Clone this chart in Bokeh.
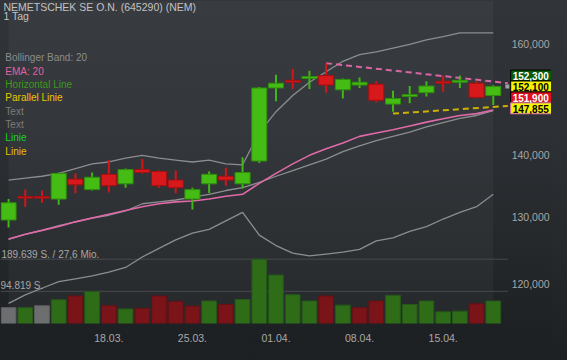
from bokeh.plotting import figure
from bokeh.models import Range1d, LinearScale, FixedTicker, Label, BoxAnnotation, GlobalInlineStyleSheet
from bokeh.embed import file_html
from bokeh.resources import INLINE

# ---------------- data ----------------
dates = ["08.03.", "11.03.", "12.03.", "13.03.", "14.03.", "15.03.",
         "18.03.", "19.03.", "20.03.", "21.03.", "22.03.",
         "25.03.", "26.03.", "27.03.", "28.03.", "29.03.",
         "01.04.", "02.04.", "03.04.", "04.04.", "05.04.",
         "08.04.", "09.04.", "10.04.", "11.04.", "12.04.",
         "15.04.", "16.04.", "17.04.", "18.04."]

opens = [129.55, 133.25, 133.25, 132.85, 136.07, 134.37, 136.85, 135.30, 137.64, 137.32,
         135.92, 132.85, 135.30, 136.54, 135.30, 139.06, 151.82, 153.22, 153.57, 154.10,
         151.48, 152.35, 152.52, 148.90, 150.27, 150.96, 153.04, 152.87, 152.69, 150.44]
highs = [132.85, 134.37, 134.22, 137.16, 137.01, 137.16, 139.22, 137.80, 139.38, 137.48,
         137.48, 134.68, 137.32, 137.95, 139.70, 152.00, 154.27, 155.33, 154.98, 156.40,
         153.57, 153.74, 153.04, 151.31, 152.17, 153.04, 154.10, 154.10, 153.04, 152.30]
lows = [128.38, 131.64, 132.25, 131.94, 133.76, 134.22, 133.91, 134.68, 137.01, 134.68,
        133.76, 131.19, 133.76, 134.99, 134.53, 138.74, 149.41, 151.65, 151.65, 150.96,
        149.92, 151.82, 149.24, 147.55, 149.07, 150.27, 151.13, 151.82, 149.92, 148.73]
closes = [132.25, 133.00, 133.00, 137.01, 135.14, 136.38, 134.99, 137.64, 137.16, 134.99,
          134.68, 134.37, 136.85, 135.92, 137.16, 151.82, 152.69, 152.87, 153.92, 152.35,
          153.39, 152.87, 149.58, 149.92, 150.61, 152.17, 152.69, 153.22, 150.10, 152.10]

volumes = [46800, 46800, 52400, 70000, 81200, 94400, 52400, 42900, 44800, 81200,
           65300, 51300, 66400, 56000, 70900, 189639, 142900, 84900, 66400, 81200,
           54100, 46800, 66400, 83200, 56000, 66400, 34500, 36400, 58000, 66400]
vol_dir = ["n", "u", "n", "u", "d", "u", "d", "u", "d", "d",
           "d", "d", "u", "d", "u", "u", "u", "u", "u", "d",
           "u", "d", "d", "u", "u", "u", "u", "u", "d", "u"]

bb_upper = [135.92, 136.23, 136.54, 137.01, 137.80, 138.59, 138.90, 139.54, 140.01, 139.54,
            139.22, 138.90, 139.22, 138.59, 138.43, 143.89, 147.55, 150.44, 152.87, 154.80,
            156.76, 158.01, 158.56, 159.28, 160.00, 160.83, 161.48, 162.22, 162.22, 162.22]
bb_mid = [126.56, 127.32, 127.95, 128.66, 129.26, 129.86, 130.29, 130.96, 132.10, 132.40,
          132.70, 133.15, 133.61, 134.22, 134.68, 135.53, 136.54, 137.48, 138.43, 139.38,
          140.65, 141.62, 142.51, 143.24, 143.98, 144.88, 145.63, 146.38, 146.88, 147.72]
bb_lower = [117.19, 118.40, 119.35, 120.30, 120.71, 121.13, 121.68, 122.37, 123.92, 125.20,
            126.49, 127.51, 128.09, 129.41, 130.75, 127.22, 125.63, 124.49, 124.07, 124.35,
            124.63, 125.06, 126.35, 126.78, 127.80, 128.53, 129.70, 130.75, 131.64, 133.61]
ema20 = [126.64, 127.36, 127.94, 128.53, 129.26, 129.86, 130.45, 131.04, 131.64, 132.10,
         132.40, 132.55, 132.85, 133.31, 133.61, 135.37, 137.01, 138.59, 140.01, 141.13,
         142.10, 143.24, 143.81, 144.39, 145.05, 145.71, 146.30, 146.88, 147.21, 147.86]

trend_x = [19, 29.87]
trend_y = [156.40, 152.69]
support_x = [23, 29.87]
support_y = [147.21, 148.56]

last_price = 152.10
price_ticks = [120, 130, 140, 160]
price_tick_labels = ["120,000", "130,000", "140,000", "160,000"]
date_tick_idx = [6, 11, 16, 21, 26]

tag_texts = ["152,300", "152,100", "151,900", "147,855"]
vol_max = 189639
vol_max_label = "189.639 S. / 27,6 Mio."
vol_half_label = "94.819 S."

title_text = "NEMETSCHEK SE O.N. (645290) (NEM)"
period_text = "1 Tag"
legend_texts = ["Bollinger Band: 20", "EMA: 20", "Horizontal Line", "Parallel Linie",
                "Text", "Text", "Linie", "Linie"]

# ---------------- styling / layout ----------------
FONT = "Liberation Sans"
GRAD = "linear-gradient(180deg, #313438 0%, #2c2f33 40%, #25282b 72%, #1d2023 100%)"
legend_colors = ["#8c8c8c", "#e0629f", "#3b9a1b", "#ecc800",
                 "#7c7c7c", "#7c7c7c", "#22d022", "#e4c000"]
tag_bg = ["#0b5a0b", "#f4f400", "#e0101e", "#f4f400"]
tag_fg = ["#ffffff", "#000000", "#ffffff", "#000000"]
tag_border = ["#000000", "#000000", "#000000", "#e070b0"]
tag_py = [79, 90.5, 102, 113.5]   # tag centres (ref px)
TAG_H = 11.5                      # tag box height (ref px)

n = len(dates)
idx = list(range(n))
REF_W, REF_H = 567, 340          # reference canvas width / price frame height (ref px)
PLOT_W = 522                     # right edge of the chart area (ref px)
X0, DX = 8.3, 17.2               # ref px of first candle, candle spacing

W, H = 551, 344
p = figure(width=W, height=H, output_backend="svg", toolbar_location=None,
           y_axis_type="log",
           x_range=Range1d(-X0 / DX, (REF_W - X0) / DX),
           y_range=Range1d(114.40, 168.64),
           min_border_left=0, min_border_top=0, min_border_right=0, min_border_bottom=18)
p.yaxis.visible = False

vol_top = vol_max * REF_H / 67.7
p.extra_y_ranges = {"vol": Range1d(0, vol_top), "px": Range1d(REF_H, 0)}
p.extra_y_scales = {"vol": LinearScale(), "px": LinearScale()}
p.extra_x_ranges = {"px": Range1d(0, REF_W)}
p.extra_x_scales = {"px": LinearScale()}

p.background_fill_alpha = 0
p.border_fill_alpha = 0
p.styles = {"background": GRAD}
p.stylesheets = [GlobalInlineStyleSheet(css="html, body { background: %s fixed; }" % GRAD)]
p.outline_line_color = None
p.grid.visible = False

xa = p.xaxis[0]
xa.ticker = FixedTicker(ticks=date_tick_idx)
xa.major_label_overrides = {i: dates[i] for i in date_tick_idx}
xa.axis_line_color = None
xa.major_tick_line_color = None
xa.minor_tick_line_color = None
xa.major_label_text_color = "#a8a8a8"
xa.major_label_text_font = FONT
xa.major_label_text_font_size = "10.5px"
xa.major_label_standoff = 4

# lighter data region
p.add_layout(BoxAnnotation(left=0, right=n - 1, fill_color="#ffffff", fill_alpha=0.035,
                           line_color=None, level="underlay"))

# volume separator lines (end at the chart's right edge)
for lvl in (vol_max, vol_max / 2):
    p.line([0, PLOT_W], [REF_H - lvl * REF_H / vol_top] * 2, x_range_name="px",
           y_range_name="px", line_color="#474a4e", line_width=1)

# volume bars
vcol = {"u": "#2e6c17", "d": "#7a1418", "n": "#6d6e70"}
vline = {"u": "#25581a", "d": "#641115", "n": "#5d5e60"}
p.vbar(x=idx, width=0.88, top=volumes, bottom=0, y_range_name="vol",
       fill_color=[vcol[d] for d in vol_dir], line_color=[vline[d] for d in vol_dir],
       line_width=1)

# bollinger + ema
for band in (bb_upper, bb_mid, bb_lower):
    p.line(idx, band, line_color="#8b8d90", line_width=1.3)
p.line(idx, ema20, line_color="#e06aa8", line_width=1.6)

# trend lines
p.line(trend_x, trend_y, line_color="#d866a4", line_width=2, line_dash="6 4")
p.line(support_x, support_y, line_color="#cdb000", line_width=2, line_dash="6 4")

# candles
up = [c >= o for o, c in zip(opens, closes)]
p.segment(x0=idx, y0=lows, x1=idx, y1=highs,
          line_color=["#3fb716" if u else "#d3161a" for u in up], line_width=2)
p.vbar(x=idx, width=0.9,
       top=[max(o, c) for o, c in zip(opens, closes)],
       bottom=[min(o, c) for o, c in zip(opens, closes)],
       fill_color=["#45bc14" if u else "#d8191c" for u in up],
       line_color=["#2f8e0d" if u else "#a50f12" for u in up], line_width=1)

# last price marker
p.scatter([n - 1 + 0.84], [last_price], marker="square", size=4,
          fill_color="#a0a0a0", line_color=None)

# price tag boxes (right margin of the chart)
p.quad(left=[525] * len(tag_py), right=[569] * len(tag_py),
       top=[y - TAG_H / 2 for y in tag_py], bottom=[y + TAG_H / 2 for y in tag_py],
       x_range_name="px", y_range_name="px",
       fill_color=tag_bg, line_color=tag_border, line_width=1)

# texts
def lab(x, y, text, color, size="10px", **kw):
    p.add_layout(Label(x=x, y=y, x_range_name="px", y_range_name="px", text=text,
                       text_color=color, text_font=FONT, text_font_size=size,
                       text_baseline="middle", text_align="left", **kw))

lab(3, 6.5, title_text, "#c2c2c2", "10.5px")
lab(3, 16.5, period_text, "#c2c2c2", "10.5px")
for k, (t, c) in enumerate(zip(legend_texts, legend_colors)):
    lab(5, 60.5 + 14 * k, t, c)
lab(1, 267.5, vol_max_label, "#a8a8a8")
lab(0, 300.5, vol_half_label, "#a8a8a8")

# price scale labels, placed at their prices through the log scale
for t, s in zip(price_ticks, price_tick_labels):
    p.add_layout(Label(x=526, y=t, x_range_name="px", text=s, text_color="#a6a6a6",
                       text_font=FONT, text_font_size="10.5px",
                       text_baseline="middle", text_align="left"))

# price tag texts
for t, py, fg in zip(tag_texts, tag_py, tag_fg):
    lab(527, py + 0.5, t, fg, "10px", text_font_style="bold")

open("out.html", "w").write(file_html(p, INLINE))
